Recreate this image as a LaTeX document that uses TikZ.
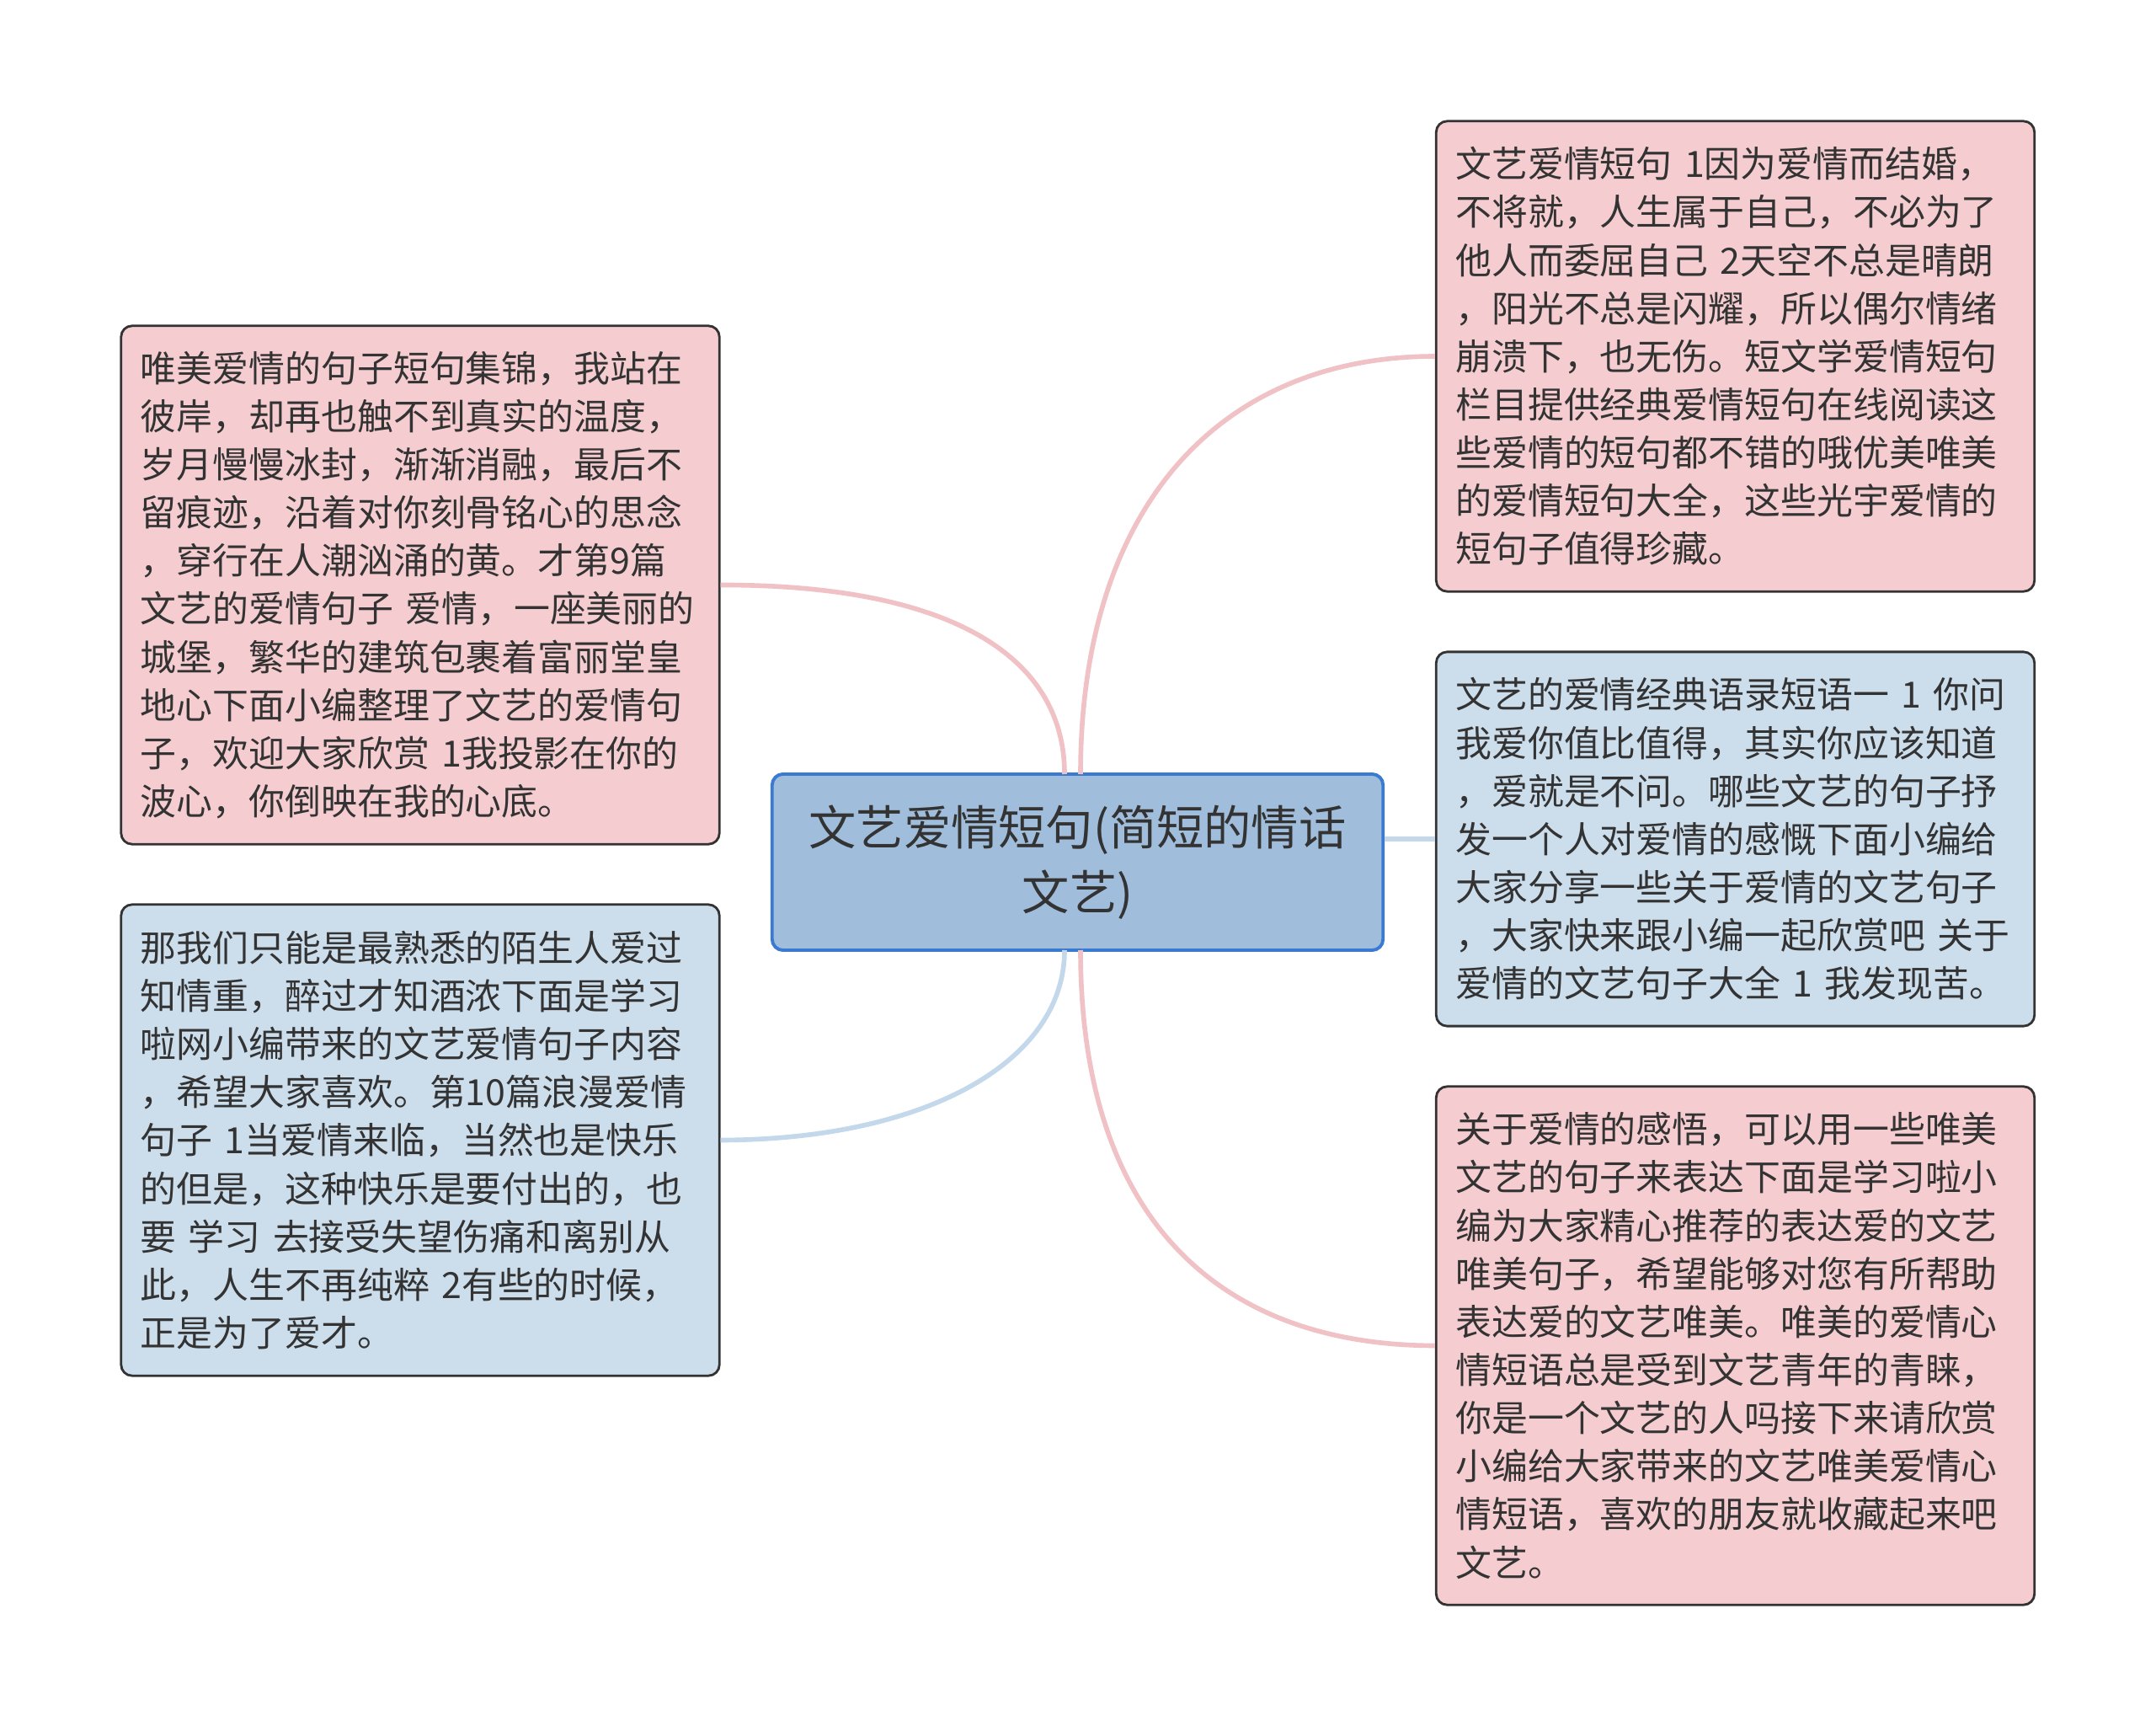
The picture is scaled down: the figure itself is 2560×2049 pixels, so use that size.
\documentclass[tikz,border=0pt]{standalone}
\usepackage{fontspec}
\usepackage{tikz}
\newfontfamily\cjk{Noto Sans CJK SC}
\definecolor{cardPink}{RGB}{245, 205, 208}
\definecolor{cardBlue}{RGB}{204, 221, 236}
\definecolor{rootBlue}{RGB}{160, 190, 219}
\definecolor{rootEdge}{RGB}{58, 122, 208}
\definecolor{linkPink}{RGB}{240, 194, 198}
\definecolor{linkBlue}{RGB}{196, 216, 235}
\definecolor{inkGray}{RGB}{51, 51, 51}

\begin{document}
\begin{tikzpicture}[x=0.01cm, y=-0.01cm,
    card/.style={draw=inkGray, line width=0.8pt, rounded corners=0.13cm,
      text=inkGray, font=\cjk\fontsize{12.2pt}{16.25pt}\selectfont,
      text width=6.64cm, inner sep=0.23cm, align=left, minimum width=7.1cm},
    pinkcard/.style={card, fill=cardPink},
    bluecard/.style={card, fill=cardBlue},
    rootbox/.style={draw=rootEdge, line width=1.1pt, fill=rootBlue, rounded corners=0.13cm,
      text=inkGray, font=\cjk\fontsize{16pt}{21.8pt}\selectfont,
      text width=6.9cm, align=center, minimum width=7.25cm, minimum height=2.09cm},
    pinklink/.style={draw=linkPink, line width=1.6pt},
    bluelink/.style={draw=linkBlue, line width=1.6pt}]
  \useasboundingbox[fill=white] (0,0) rectangle (2560,2049);

  \node[rootbox] (root) at (1279.5,1023.5) {文艺爱情短句(简短的情话\\文艺)};

  \node[pinkcard, minimum height=6.15cm] (lt) at (499,694.5) {唯美爱情的句子短句集锦，我站在\\
    彼岸，却再也触不到真实的温度，\\
    岁月慢慢冰封，渐渐消融，最后不\\
    留痕迹，沿着对你刻骨铭心的思念\\
    ，穿行在人潮汹涌的黄。才第9篇\\
    文艺的爱情句子 爱情，一座美丽的\\
    城堡，繁华的建筑包裹着富丽堂皇\\
    地心下面小编整理了文艺的爱情句\\
    子，欢迎大家欣赏 1我投影在你的\\
    波心，你倒映在我的心底。};

  \node[bluecard, minimum height=5.59cm] (lb) at (499,1353.5) {那我们只能是最熟悉的陌生人爱过\\
    知情重，醉过才知酒浓下面是学习\\
    啦网小编带来的文艺爱情句子内容\\
    ，希望大家喜欢。第10篇浪漫爱情\\
    句子 1当爱情来临，当然也是快乐\\
    的但是，这种快乐是要付出的，也\\
    要 学习 去接受失望伤痛和离别从\\
    此，人生不再纯粹 2有些的时候，\\
    正是为了爱才。};

  \node[pinkcard, minimum height=5.58cm] (rt) at (2060.5,423) {文艺爱情短句 1因为爱情而结婚，\\
    不将就，人生属于自己，不必为了\\
    他人而委屈自己 2天空不总是晴朗\\
    ，阳光不总是闪耀，所以偶尔情绪\\
    崩溃下，也无伤。短文学爱情短句\\
    栏目提供经典爱情短句在线阅读这\\
    些爱情的短句都不错的哦优美唯美\\
    的爱情短句大全，这些光宇爱情的\\
    短句子值得珍藏。};

  \node[bluecard, minimum height=4.44cm] (rm) at (2060.5,996) {文艺的爱情经典语录短语一 1 你问\\
    我爱你值比值得，其实你应该知道\\
    ，爱就是不问。哪些文艺的句子抒\\
    发一个人对爱情的感慨下面小编给\\
    大家分享一些关于爱情的文艺句子\\
    ，大家快来跟小编一起欣赏吧 关于\\
    爱情的文艺句子大全 1 我发现苦。};

  \node[pinkcard, minimum height=6.15cm] (rb) at (2060.5,1597.5) {关于爱情的感悟，可以用一些唯美\\
    文艺的句子来表达下面是学习啦小\\
    编为大家精心推荐的表达爱的文艺\\
    唯美句子，希望能够对您有所帮助\\
    表达爱的文艺唯美。唯美的爱情心\\
    情短语总是受到文艺青年的青睐，\\
    你是一个文艺的人吗接下来请欣赏\\
    小编给大家带来的文艺唯美爱情心\\
    情短语，喜欢的朋友就收藏起来吧\\
    文艺。};

  \coordinate (rootTopL) at (1264,919);
  \coordinate (rootTopR) at (1283,919);
  \coordinate (rootBotL) at (1264,1128);
  \coordinate (rootBotR) at (1283,1128);

  \begin{scope}[on background layer/.try]
  \path[pinklink] (lt.east) .. controls (1130,694) and (1264,780) .. (rootTopL);
  \path[pinklink] (rootTopR) .. controls (1283,600) and (1450,423) .. (rt.west);
  \path[bluelink] (root.east |- rm.west) -- (rm.west);
  \path[bluelink] (rootBotL) .. controls (1264,1260) and (1100,1353) .. (lb.east);
  \path[pinklink] (rootBotR) .. controls (1283,1450) and (1450,1597) .. (rb.west);
  \end{scope}
\end{tikzpicture}
\end{document}
